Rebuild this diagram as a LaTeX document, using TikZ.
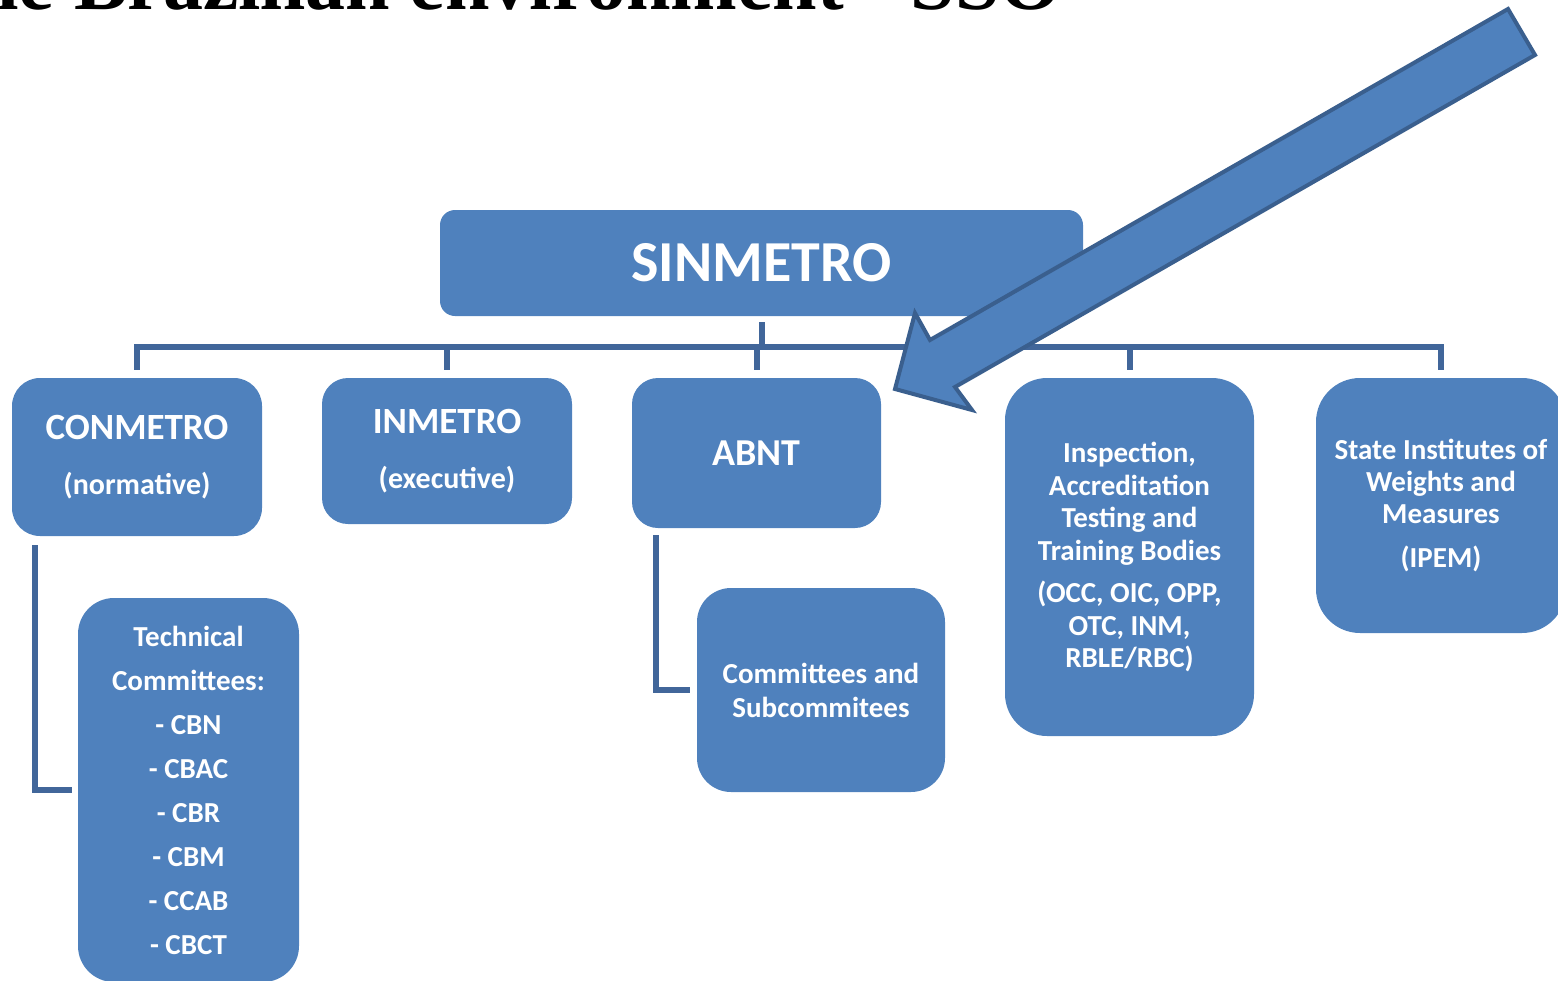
\documentclass[tikz,border=0pt]{standalone}
\usepackage{fontspec}
\setmainfont{Carlito}
\newfontfamily\titlefont{Liberation Serif}
\definecolor{boxblue}{HTML}{4F81BD}
\definecolor{linkblue}{HTML}{41669A}
\definecolor{arrowedge}{HTML}{3A5F8E}
\tikzset{
  box/.style={fill=boxblue, draw=none, text=white, font=\bfseries, align=center,
    inner sep=0pt, rounded corners=#1},
  box/.default=28pt,
  conn/.style={draw=linkblue, line width=6pt},
  blockarrow/.style={fill=boxblue, draw=arrowedge, line width=4pt, line join=miter},
}
\begin{document}
\begin{tikzpicture}[x=1pt,y=-1pt]
\clip (0,0) rectangle (1558,980);
\useasboundingbox (0,0) rectangle (1558,980);

% title (cut off at the top of the page)
\node[anchor=base east, inner sep=0pt, font=\titlefont\bfseries\fontsize{80}{90}\selectfont] (title) at (1062,9) {The Brazilian environment - SSO};

% boxes
\node[box=15pt, minimum width=643pt, minimum height=106pt, font=\bfseries\fontsize{58}{60}\selectfont] (s) at (761.5,263) {SINMETRO};

\node[box=28pt, minimum width=250pt, minimum height=158pt, font=\bfseries\fontsize{37}{55}\selectfont] (cm) at (137,457)
  {CONMETRO\\\fontsize{30}{55}\selectfont (normative)};
\node[box=26pt, minimum width=250pt, minimum height=146pt, font=\bfseries\fontsize{37}{55}\selectfont] (im) at (447,451)
  {INMETRO\\\fontsize{30}{55}\selectfont (executive)};
\node[box=26pt, minimum width=249pt, minimum height=150pt, font=\bfseries\fontsize{38}{40}\selectfont] (ab) at (756.5,453) {ABNT};
\node[box=42pt, minimum width=249pt, minimum height=358pt, font=\bfseries\fontsize{29}{32.5}\selectfont] (ib) at (1129.5,557)
  {Inspection,\\Accreditation\\Testing and\\Training Bodies\\[10pt](OCC, OIC, OPP,\\OTC, INM,\\RBLE/RBC)};
\node[box=44pt, minimum width=250pt, minimum height=255pt, font=\bfseries\fontsize{29}{32}\selectfont] (st) at (1441,505.5)
  {State Institutes of\\Weights and\\Measures\\[12pt](IPEM)};
\node[box=36pt, minimum width=221pt, minimum height=384pt, font=\bfseries\fontsize{29}{44}\selectfont] (tc) at (188.5,790)
  {Technical\\Committees:\\- CBN\\- CBAC\\- CBR\\- CBM\\- CCAB\\- CBCT};
\node[box=34pt, minimum width=248pt, minimum height=204pt, font=\bfseries\fontsize{29}{34}\selectfont] (cs) at (821,690)
  {Committees and\\Subcommitees};

% connectors
\coordinate (bus) at (0,347);
\draw[conn] ([yshift=-6pt]s.south) -- (s.south |- bus);
\draw[conn, line cap=rect] (cm.north |- bus) -- (st.north |- bus);
\foreach \n in {cm,im,ab,ib,st}{
  \draw[conn] (\n.north |- bus) -- ([yshift=8pt]\n.north);
}
\draw[conn] ([xshift=23pt,yshift=-9pt]cm.south west) |- ([xshift=-6pt]tc.west);
\draw[conn] ([xshift=24pt,yshift=-7pt]ab.south west) |- ([xshift=-7pt]cs.west);

% block arrow
\draw[blockarrow] (1508,9) -- (1535,55) -- (955,387) -- (972,410) -- (895,389) -- (915,313) -- (930,340) -- cycle;
\end{tikzpicture}
\end{document}
